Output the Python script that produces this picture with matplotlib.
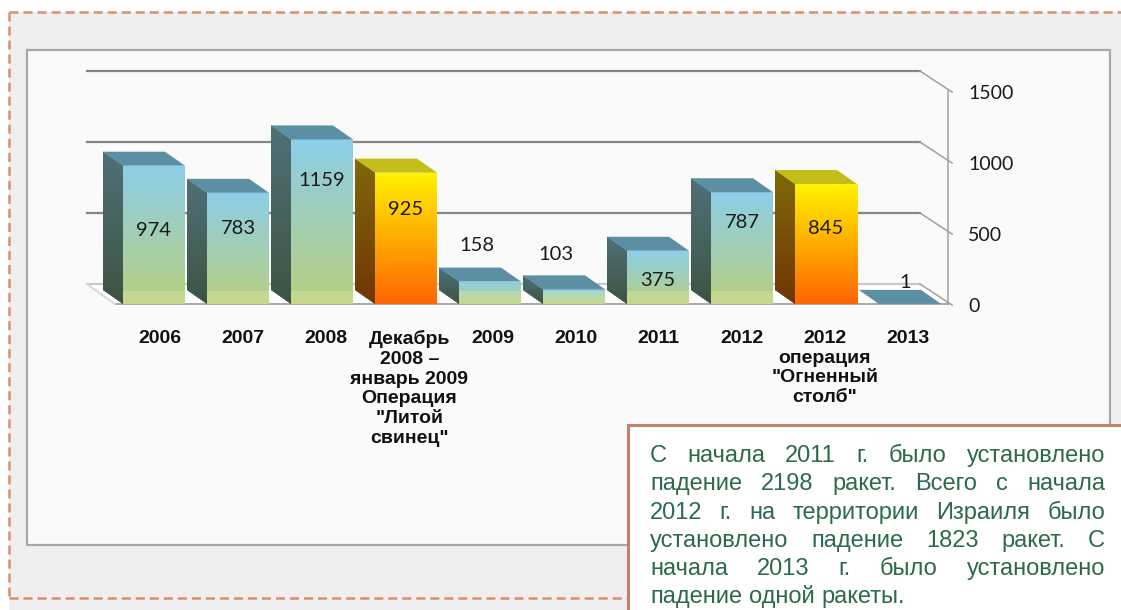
import matplotlib.pyplot as plt
import numpy as np
from matplotlib.patches import Rectangle, Polygon
from matplotlib.lines import Line2D
from matplotlib.transforms import blended_transform_factory

plt.rcParams['lines.scale_dashes'] = False

# data
categories = ['2006', '2007', '2008',
              'Декабрь\n2008 –\nянварь 2009\nОперация\n"Литой\nсвинец"',
              '2009', '2010', '2011', '2012',
              '2012\nоперация\n"Огненный\nстолб"', '2013']
rockets = [974, 783, 1159, 925, 158, 103, 375, 787, 845, 1]
is_operation = [False, False, False, True, False, False, False, False, True, False]
y_ticks = [0, 500, 1000, 1500]
note_lines = [
    'С начала 2011 г. было установлено',
    'падение 2198 ракет. Всего с начала',
    '2012 г. на территории Израиля было',
    'установлено падение 1823 ракет. С',
    'начала 2013 г. было установлено',
    'падение одной ракеты.',
]

# value-label heights (in rocket units) and small x shifts
label_y = [521, 535, 873, 662, 415, 352, 169, 577, 535, 148]
label_dx = [0, 0, 0, 0, -0.16, -0.21, 0, 0, 0, -0.06]

BLUE = dict(front_top=(0.55, 0.81, 0.91), front_bot=(0.72, 0.81, 0.50),
            side_top=(0.31, 0.44, 0.47), side_bot=(0.24, 0.33, 0.26),
            top=(0.36, 0.56, 0.64))
ORANGE = dict(front_top=(1.0, 0.95, 0.0), front_bot=(1.0, 0.40, 0.0),
              side_top=(0.50, 0.41, 0.04), side_bot=(0.44, 0.21, 0.02),
              top=(0.77, 0.74, 0.10))

W, H = 1121, 610
fig = plt.figure(figsize=(W / 100, H / 100), dpi=100)
fig.patch.set_facecolor('white')


def fx(x):
    return x / W


def fy(y):
    return 1 - y / H


def frect(x0, y0, x1, y1, **kw):
    r = Rectangle((fx(x0), fy(y1)), fx(x1) - fx(x0), fy(y0) - fy(y1),
                  transform=fig.transFigure, **kw)
    fig.add_artist(r)
    return r


def fline(xs, ys, **kw):
    fig.add_artist(Line2D([fx(v) for v in xs], [fy(v) for v in ys],
                          transform=fig.transFigure, **kw))


# background, dashed border, chart frame
frect(9, 12, W + 5, H + 5, facecolor='#efefef', edgecolor='none', zorder=-3)
frect(27, 50, 1110, 545, facecolor='#fafafa', edgecolor='#a8a8a8', lw=1.6, zorder=-2)
dash = dict(color='#d6916a', lw=1.8, linestyle=(0, (6.5, 3.6)), zorder=-1)
fline([9, 9], [12, 598], **dash)
fline([9, W], [12, 12], **dash)
fline([9, 628], [598, 598], **dash)

# axes mapped to pixel geometry of the reference
ax = fig.add_axes([0, 0, 1, 1])
ax.axis('off')
x0px, xstep = 154, 84
scale = 0.142
base = 304

ddx, ddy = 20 / xstep, 14 / scale          # bar depth
wdx, wdy = 28 / xstep, 20 / scale          # wall depth
x_axis = 9.452
wall_l, wall_r = -0.80, x_axis - wdx

# floor
floor = Polygon([(wall_l + wdx, 0), (x_axis, 0), (wall_r, wdy), (wall_l, wdy)],
                closed=True, facecolor='white', edgecolor='none', zorder=1)
ax.add_patch(floor)
ax.plot([wall_l + wdx, x_axis], [0, 0], color='#9a9a9a', lw=1.2, zorder=1.5)
ax.plot([wall_l, wall_l + wdx], [wdy, 0], color='#d8d8d8', lw=1.5, zorder=1.5)

# back gridlines and axis
for v in y_ticks:
    c = '#c8c8c8' if v == 0 else '#858585'
    ax.plot([wall_l, wall_r], [v + wdy, v + wdy], color=c, lw=1.6, zorder=1.2)
    ax.plot([wall_r, x_axis + 0.05], [v + wdy, v - 8], color='#a0a0a0', lw=1.1, zorder=1.2)
    ax.text((968 - x0px) / xstep, v - 18, str(v), ha='left', va='center',
            fontsize=14, family='Lato', color='#1a1a1a')
ax.plot([x_axis, x_axis], [0, y_ticks[-1]], color='#a0a0a0', lw=1.1, zorder=1.2)

# bars
x = np.arange(len(rockets))
bw = 62 / xstep
fills = ['#f5b800' if op else '#8fc9c8' for op in is_operation]
bars = ax.bar(x, rockets, width=bw, color=fills, edgecolor='none', zorder=4)
grad = np.linspace(0, 1, 128)[:, None, None]


def gradient(c_bot, c_top):
    return np.array(c_bot) + (np.array(c_top) - np.array(c_bot)) * grad


for i, (b, v) in enumerate(zip(bars, rockets)):
    pal = ORANGE if is_operation[i] else BLUE
    xl, xr = b.get_x(), b.get_x() + b.get_width()
    im = ax.imshow(gradient(pal['front_bot'], pal['front_top']), extent=(xl, xr, 0, v),
                   origin='lower', aspect='auto', interpolation='bilinear', zorder=4.1)
    im.set_clip_path(b)
    side = Polygon([(xl, 0), (xl, v), (xl - ddx, v + ddy), (xl - ddx, ddy)], closed=True,
                   facecolor=pal['side_top'], edgecolor='none', zorder=4)
    ax.add_patch(side)
    im2 = ax.imshow(gradient(pal['side_bot'], pal['side_top']),
                    extent=(xl - ddx, xl, 0, v + ddy), origin='lower', aspect='auto',
                    interpolation='bilinear', zorder=4.1)
    im2.set_clip_path(side)
    top = Polygon([(xl, v), (xr, v), (xr - ddx, v + ddy), (xl - ddx, v + ddy)], closed=True,
                  facecolor=pal['top'], edgecolor='none', zorder=4.2)
    ax.add_patch(top)
    if not is_operation[i]:
        ax.add_patch(Rectangle((xl, 0), bw, min(v, 95), facecolor='#eef0a8', alpha=0.28,
                               edgecolor='none', zorder=4.3))
    ax.text(i + label_dx[i], label_y[i], str(v), ha='center', va='center',
            fontsize=14.5, family='Lato', color='#1a1a1a', zorder=6)

# category labels
tr = blended_transform_factory(ax.transData, fig.transFigure)
for i, cat in enumerate(categories):
    ax.text(i + (6 - 0.9 * i) / xstep, fy(330), cat, transform=tr, ha='center', va='top',
            multialignment='center', fontsize=14, fontweight='bold',
            family='Liberation Sans', linespacing=1.21, color='#111111')

ax.set_xlim(-x0px / xstep, (W - x0px) / xstep)
ax.set_ylim((base - H) / scale, base / scale)

# note box with justified text
frect(628, 425, W + 10, H + 10, facecolor='white', edgecolor='#c4806a', lw=2.2, zorder=5)
renderer = fig.canvas.get_renderer()
left, right = 650, 1105
for k, line in enumerate(note_lines):
    words = line.split()
    yb = fy(462 + 28.3 * k)
    texts = [fig.text(0, yb, wd, fontsize=17, family='Liberation Sans', color='#2b6a4c',
                      va='baseline', ha='left', zorder=6) for wd in words]
    widths = [t.get_window_extent(renderer).width for t in texts]
    if k == len(note_lines) - 1 or len(words) == 1:
        gap = 6.6
    else:
        gap = (right - left - sum(widths)) / (len(words) - 1)
    xp = left
    for t, wdt in zip(texts, widths):
        t.set_x(fx(xp))
        xp += wdt + gap

fig.savefig('out.png', dpi=100)
